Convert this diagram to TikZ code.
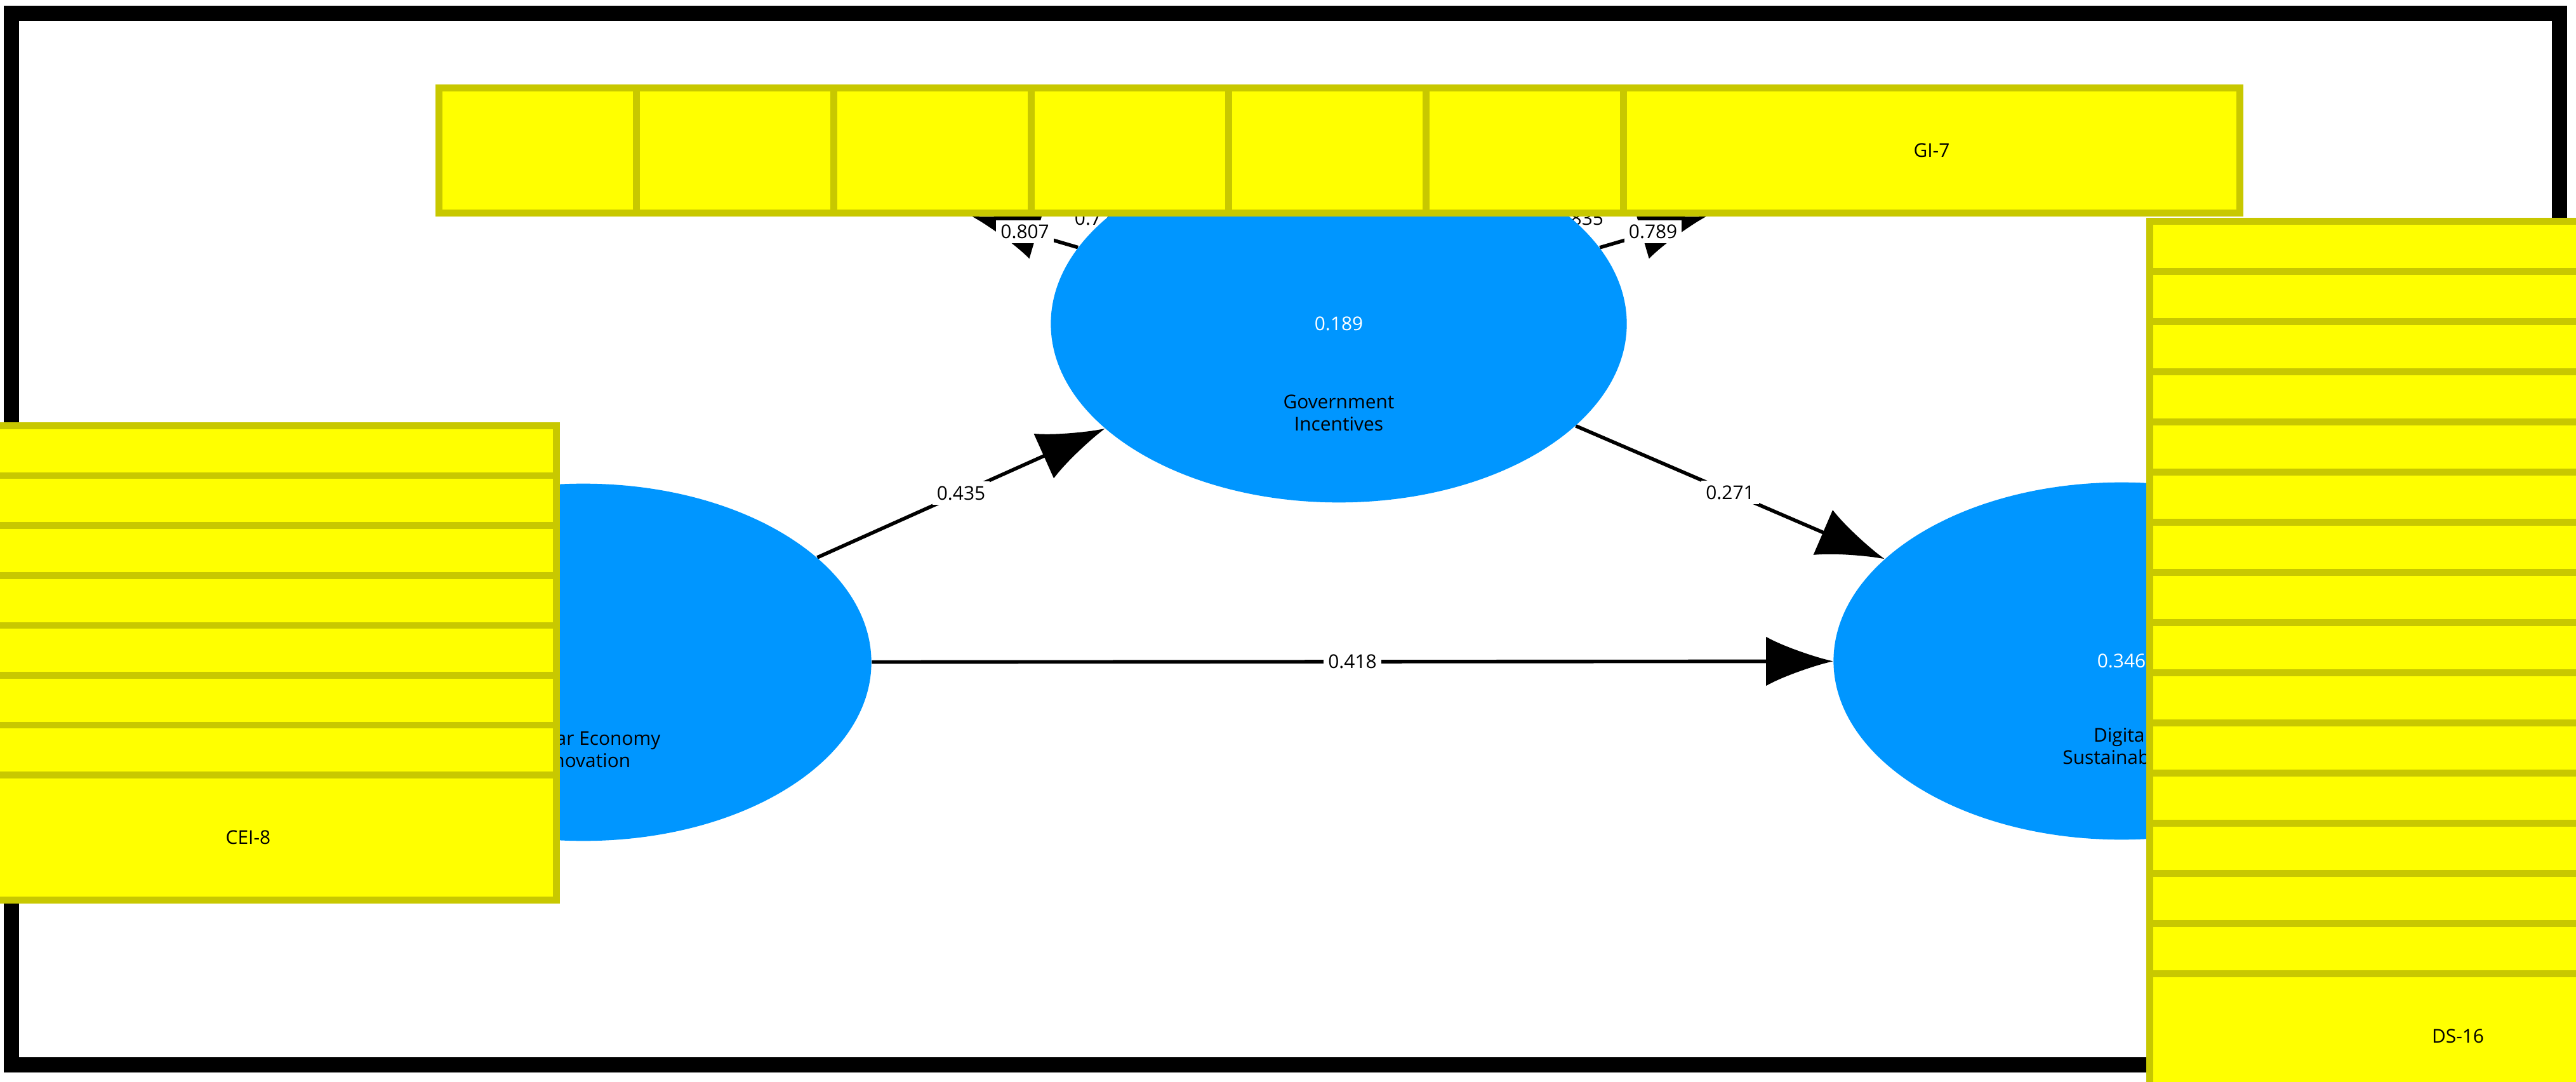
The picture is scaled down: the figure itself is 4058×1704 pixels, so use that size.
\documentclass[tikz,border=0pt]{standalone}
\usepackage{fontspec}
\setmainfont{Open Sans}
\usetikzlibrary{arrows.meta,shapes.geometric}
\pgfdeclarelayer{bg}
\pgfsetlayers{bg,main}
\definecolor{boxy}{RGB}{255,255,0}
\definecolor{boxb}{RGB}{200,200,0}
\definecolor{lv}{RGB}{0,150,255}
\begin{document}
\begin{tikzpicture}[x=0.01cm,y=-0.01cm,
  ind/.style={draw=boxb,line width=3,fill=boxy,minimum width=276,minimum height=56,inner sep=0,font=\fontsize{8.5}{10}\selectfont},
  lat/.style={ellipse,fill=lv,minimum width=258,minimum height=160,inner sep=0,text=white,font=\fontsize{8.5}{10}\selectfont},
  lvname/.style={align=center,font=\fontsize{8.5}{10}\selectfont,inner sep=1},
  arr/.style={line width=1.6,-{Latex[length=30,width=22]}},
  lab/.style={fill=white,inner sep=2,font=\fontsize{8.5}{10}\selectfont}]
\useasboundingbox (0,0) rectangle (4058,1704);
\draw[line width=7] (18,21) rectangle (4032,1677);
\node[lat] (CEI) at (919,1043) {};
\node[lat] (GI) at (2109,510) {0.189};
\node[lat] (DS) at (3342,1041) {0.346};
\node[lvname] (CEIn) at (919,1180) {Circular Economy\\Innovation};
\node[lvname] (GIn) at (2109,650) {Government\\Incentives};
\node[lvname] (DSn) at (3342,1178) {Digital\\Sustainability};
\foreach \i in {1,...,8} \node[ind] (CEI\i) at (391,{769+78.6*(\i-1)}) {CEI-\i};
\foreach \i in {1,...,7} \node[ind] (GI\i) at ({1177+311*(\i-1)},237) {GI-\i};
\foreach \i in {1,...,16} \node[ind] (DS\i) at (3872,{447+79*(\i-1)}) {DS-\i};
\begin{pgfonlayer}{bg}
\foreach \i/\v in {1/0.708,2/0.761,3/0.689,4/0.791,5/0.888,6/0.780,7/0.746,8/0.744}
  \draw[arr] (CEI) -- (CEI\i) node[lab,pos=0.5] {\v};
\foreach \i/\v in {1/0.807,2/0.774,3/0.853,4/0.803,5/0.829,6/0.835,7/0.789}
  \draw[arr] (GI) -- (GI\i) node[lab,pos=0.5] {\v};
\foreach \i/\v in {1/0.781,2/0.697,3/0.772,4/0.885,5/0.718,6/0.794,7/0.707,8/0.743,9/0.624,10/0.751,11/0.786,12/0.899,13/0.737,14/0.790,15/0.803,16/0.826}
  \draw[arr] (DS) -- (DS\i) node[lab,pos=0.5] {\v};
\draw[arr] (CEI) -- (GI) node[lab,pos=0.5] {0.435};
\draw[arr] (GI) -- (DS) node[lab,pos=0.5] {0.271};
\draw[arr] (CEI) -- (DS) node[lab,pos=0.5] {0.418};
\end{pgfonlayer}
\end{tikzpicture}
\end{document}
